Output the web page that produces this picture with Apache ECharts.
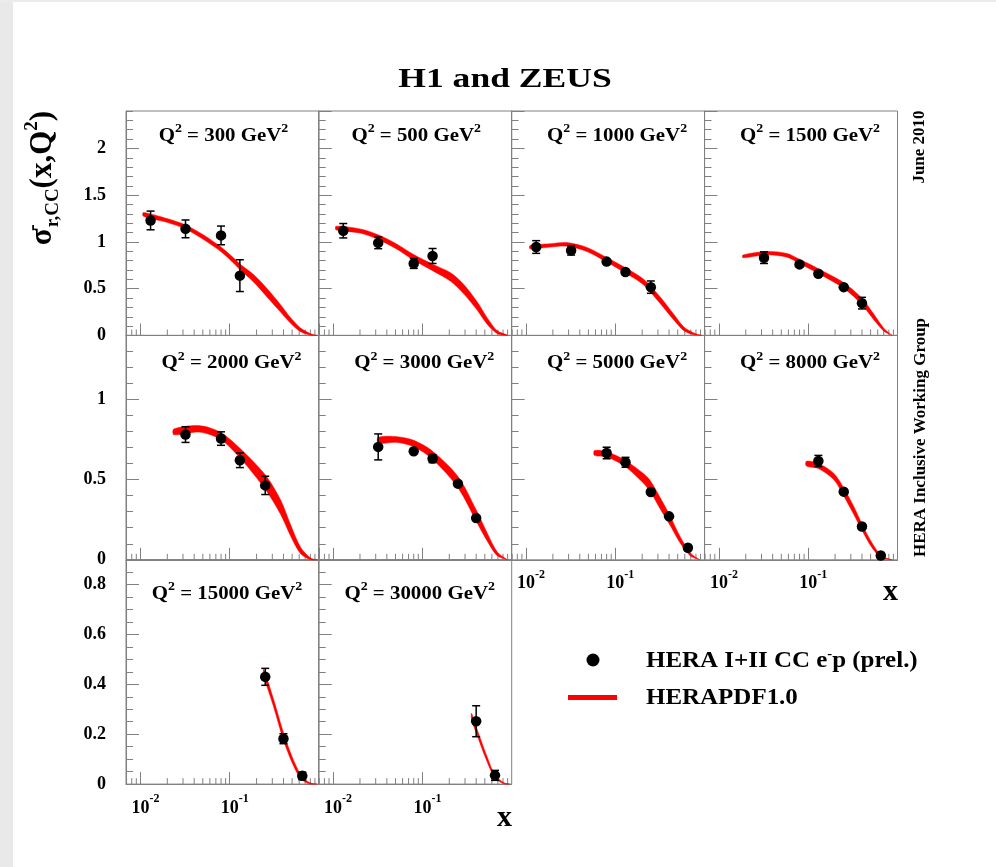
<!DOCTYPE html>
<html><head><meta charset="utf-8">
<script src="https://cdn.jsdelivr.net/npm/echarts@6/dist/echarts.min.js"></script>
<style>html,body{margin:0;padding:0;background:#fff}#c{width:996px;height:867px}</style>
</head><body><div id="c"></div>
<script>
// ---------- data ----------
const q2Labels = ['300','500','1000','1500','2000','3000','5000','8000','15000','30000'];
const panelRow = [0,0,0,0,1,1,1,1,2,2];
const panelCol = [0,1,2,3,0,1,2,3,0,1];

// measured points: x, sigma, error
const ptX = [
  [0.013,0.032,0.08,0.13],
  [0.013,0.032,0.08,0.13],
  [0.013,0.032,0.08,0.13,0.25],
  [0.032,0.08,0.13,0.25,0.40],
  [0.032,0.08,0.13,0.25],
  [0.032,0.08,0.13,0.25,0.40],
  [0.08,0.13,0.25,0.40,0.65],
  [0.13,0.25,0.40,0.65],
  [0.25,0.40,0.65],
  [0.40,0.65]
];
const ptY = [
  [1.23,1.14,1.07,0.64],
  [1.12,0.99,0.77,0.85],
  [0.946,0.91,0.79,0.678,0.517],
  [0.832,0.76,0.66,0.517,0.346],
  [0.781,0.756,0.621,0.464],
  [0.704,0.677,0.631,0.475,0.26],
  [0.666,0.608,0.423,0.271,0.075],
  [0.616,0.425,0.208,0.027],
  [0.43,0.182,0.033],
  [0.252,0.035]
];
const ptErr = [
  [0.10,0.095,0.10,0.17],
  [0.077,0.062,0.053,0.08],
  [0.068,0.05,0.015,0.015,0.066],
  [0.062,0.015,0.015,0.015,0.062],
  [0.049,0.042,0.046,0.057],
  [0.081,0.012,0.025,0.012,0.012],
  [0.036,0.031,0.012,0.012,0.01],
  [0.035,0.012,0.012,0.008],
  [0.034,0.02,0.015],
  [0.062,0.02]
];

// HERAPDF1.0 band: x, lower edge, upper edge
const curveX = [
  [0.0108,0.0198,0.032,0.051,0.08,0.111,0.13,0.186,0.263,0.371,0.481,0.622,0.806,0.96],
  [0.0108,0.0201,0.032,0.052,0.08,0.13,0.207,0.292,0.412,0.533,0.69,0.893],
  [0.0111,0.0186,0.0286,0.048,0.08,0.13,0.208,0.32,0.452,0.585,0.758,0.93],
  [0.0186,0.0345,0.058,0.08,0.13,0.25,0.40,0.545,0.705,0.875],
  [0.0237,0.0469,0.08,0.13,0.25,0.371,0.481,0.622,0.806,0.96],
  [0.032,0.052,0.08,0.13,0.25,0.40,0.533,0.69,0.893],
  [0.0585,0.08,0.13,0.208,0.25,0.32,0.40,0.537,0.695,0.88],
  [0.0955,0.13,0.193,0.25,0.324,0.40,0.52,0.67,0.875],
  [0.24,0.31,0.40,0.50,0.622,0.77,0.95],
  [0.355,0.40,0.533,0.65,0.82,0.95]
];
const curveLo = [
  [1.275,1.21,1.138,1.025,0.895,0.772,0.705,0.57,0.41,0.25,0.13,0.04,0.004,0],
  [1.129,1.095,1.027,0.922,0.805,0.693,0.58,0.443,0.269,0.118,0.02,0],
  [0.927,0.945,0.954,0.898,0.785,0.668,0.541,0.34,0.166,0.052,0.008,0],
  [0.831,0.863,0.837,0.77,0.664,0.505,0.329,0.166,0.046,0],
  [0.78,0.796,0.749,0.636,0.44,0.284,0.148,0.038,0.001,0],
  [0.728,0.732,0.705,0.627,0.45,0.242,0.116,0.025,0],
  [0.651,0.642,0.58,0.476,0.419,0.315,0.226,0.101,0.023,0],
  [0.585,0.569,0.5,0.398,0.283,0.184,0.074,0.01,0],
  [0.436,0.31,0.176,0.086,0.023,0.001,0],
  [0.26,0.206,0.088,0.024,0.001,0]
];
const curveHi = [
  [1.315,1.25,1.182,1.075,0.945,0.828,0.765,0.65,0.50,0.33,0.19,0.08,0.02,0],
  [1.169,1.139,1.077,0.976,0.865,0.763,0.67,0.543,0.359,0.188,0.05,0.006],
  [0.963,0.981,0.994,0.942,0.835,0.724,0.601,0.41,0.226,0.092,0.028,0],
  [0.861,0.899,0.877,0.814,0.714,0.565,0.399,0.226,0.076,0],
  [0.816,0.836,0.793,0.696,0.53,0.374,0.218,0.078,0.011,0],
  [0.764,0.768,0.745,0.677,0.52,0.312,0.166,0.049,0],
  [0.681,0.674,0.62,0.536,0.489,0.385,0.286,0.141,0.043,0],
  [0.615,0.601,0.54,0.448,0.333,0.224,0.104,0.022,0],
  [0.46,0.34,0.206,0.11,0.039,0.007,0],
  [0.284,0.23,0.108,0.036,0.005,0]
];

// axes / ticks
const rowYMax = [2.4, 1.4, 0.9];
const rowYMajor = [0.5, 0.5, 0.2];
const rowYMinor = [0.1, 0.1, 0.05];
const xMin = 0.0069, xMax = 1;
const xMajorTicks = [0.01, 0.1];
const xMajorLabels = ['{b|10}{s|-2}', '{b|10}{s|-1}'];
const xMinorTicks = [0.007,0.008,0.009,0.02,0.03,0.04,0.05,0.06,0.07,0.08,0.09,0.2,0.3,0.4,0.5,0.6,0.7,0.8,0.9];
const nameData = 'HERA I+II CC e-p (prel.)';
const nameFit = 'HERAPDF1.0';

// ---------- layout ----------
const colLeft = [126, 318.7, 511.6, 704.5];
const rowTop = [111, 335.3, 559.6];
const panelW = 193, panelH = 224.5;
const labelCenterByDigits = {3: 97.5, 4: 105.5, 5: 101};
const labelRowOffset = [23, 26.5, 32.5];
const FONT = "'Liberation Serif','Times New Roman',serif";
const FRAME = '#808080';

const grids = [], xAxes = [], yAxes = [], series = [], graphics = [];

graphics.push({type:'rect', silent:true, shape:{x:0,y:0,width:13,height:867}, style:{fill:'#e9e9e9'}});
graphics.push({type:'rect', silent:true, shape:{x:0,y:0,width:996,height:2}, style:{fill:'#ececec'}});

const xRich = {
  b:{fontFamily:FONT, fontWeight:'bold', fontSize:18, color:'#000', verticalAlign:'bottom', lineHeight:24, padding:[0,0,0,10]},
  s:{fontFamily:FONT, fontWeight:'bold', fontSize:12, color:'#000', verticalAlign:'top'}
};

function makeBand(idx) {
  return function(params, api){
    const pts = [];
    const cx = curveX[idx], lo = curveLo[idx], hi = curveHi[idx];
    for (let k=0;k<cx.length;k++) pts.push(api.coord([cx[k], hi[k]]));
    for (let k=cx.length-1;k>=0;k--) pts.push(api.coord([cx[k], lo[k]]));
    return {type:'polygon', shape:{points:pts, smooth:0.3}, style:{fill:'#ff0000', stroke:'#ff0000', lineWidth:0.5}};
  };
}
function renderMinorTick(params, api){
  const p = api.coord([api.value(0), 0]);
  return {type:'line', shape:{x1:p[0], y1:p[1], x2:p[0], y2:p[1]-6}, style:{stroke:FRAME, lineWidth:1}};
}
function renderErr(params, api){
  const a = api.coord([api.value(0), api.value(1)]);
  const b = api.coord([api.value(0), api.value(2)]);
  return {type:'group', children:[
    {type:'line', shape:{x1:a[0], y1:a[1], x2:b[0], y2:b[1]}, style:{stroke:'#000', lineWidth:1.5}},
    {type:'line', shape:{x1:a[0]-4, y1:a[1], x2:a[0]+4, y2:a[1]}, style:{stroke:'#000', lineWidth:1.5}},
    {type:'line', shape:{x1:b[0]-4, y1:b[1], x2:b[0]+4, y2:b[1]}, style:{stroke:'#000', lineWidth:1.5}}
  ]};
}

for (let i = 0; i < q2Labels.length; i++) {
  const r = panelRow[i], c = panelCol[i];
  grids.push({left:colLeft[c], top:rowTop[r], width:panelW, height:panelH, show:true,
    borderColor:FRAME, borderWidth:1, backgroundColor:'transparent', containLabel:false});
  const showX = (r === 2) || (r === 1 && c >= 2);
  xAxes.push({type:'log', gridIndex:i, min:xMin, max:xMax, logBase:10,
    axisLine:{show:true, lineStyle:{color:FRAME, width:1}},
    axisTick:{show:true, inside:true, length:12, lineStyle:{color:FRAME, width:1}},
    splitLine:{show:false},
    axisLabel:{show:showX, margin:9, showMinLabel:false, showMaxLabel:false,
      formatter:function(v){ for (let k=0;k<xMajorTicks.length;k++){ if (Math.abs(v/xMajorTicks[k]-1)<1e-6) return xMajorLabels[k]; } return ''; },
      rich:xRich}
  });
  yAxes.push({type:'value', gridIndex:i, position:'left', min:0, max:rowYMax[r], interval:rowYMajor[r],
    axisLine:{show:true, lineStyle:{color:FRAME, width:1}},
    axisTick:{show:true, inside:true, length:13, lineStyle:{color:FRAME, width:1}},
    splitLine:{show:false},
    axisLabel:{show:c===0, showMaxLabel:false, margin:20,
      fontFamily:FONT, fontWeight:'bold', fontSize:18, color:'#000'}
  });
  yAxes.push({type:'value', gridIndex:i, position:'left', min:0, max:rowYMax[r], interval:rowYMinor[r],
    axisLine:{show:false}, splitLine:{show:false}, axisLabel:{show:false},
    axisTick:{show:true, inside:true, length:7, lineStyle:{color:FRAME, width:1}}
  });

  series.push({type:'custom', xAxisIndex:i, yAxisIndex:2*i, silent:true, z:1,
    data:xMinorTicks.map(v=>[v,0]), renderItem:renderMinorTick});

  series.push({type:'custom', name:nameFit, xAxisIndex:i, yAxisIndex:2*i, silent:true, z:2,
    itemStyle:{color:'#ff0000'},
    data:[[curveX[i][0], curveHi[i][0]]], renderItem:makeBand(i)});

  series.push({type:'custom', xAxisIndex:i, yAxisIndex:2*i, silent:true, z:3,
    data:ptX[i].map((x,k)=>[x, ptY[i][k]-ptErr[i][k], ptY[i][k]+ptErr[i][k]]),
    renderItem:renderErr});

  series.push({type:'scatter', name:nameData, xAxisIndex:i, yAxisIndex:2*i, z:4, silent:true,
    symbol:'circle', symbolSize:10.5, itemStyle:{color:'#000', opacity:1},
    data:ptX[i].map((x,k)=>[x, ptY[i][k]])});

  graphics.push({type:'text', silent:true,
    x: colLeft[c] + labelCenterByDigits[q2Labels[i].length],
    y: rowTop[r] + labelRowOffset[r],
    scaleX:1.16,
    style:{text:'{q|Q}{s|2}{q| = ' + q2Labels[i] + ' GeV}{s|2}', align:'center', verticalAlign:'middle',
      rich:{
        q:{fontFamily:FONT, fontWeight:'bold', fontSize:18, fill:'#000', verticalAlign:'bottom', lineHeight:22},
        s:{fontFamily:FONT, fontWeight:'bold', fontSize:12, fill:'#000', verticalAlign:'top'}
      }}});
}

// titles, side texts, legend
graphics.push({type:'text', silent:true, x:505, y:80, scaleX:1.27,
  style:{text:'H1 and ZEUS', align:'center', verticalAlign:'middle', font:"bold 28px " + FONT, fill:'#000'}});
graphics.push({type:'text', silent:true, x:43, y:178, rotation:Math.PI/2,
  style:{text:'{a|σ}{m|-}{b|r,CC}{a|(x,Q}{c|2}{a|)}', align:'center', verticalAlign:'middle',
    rich:{
      a:{fontFamily:FONT, fontWeight:'bold', fontSize:31, fill:'#000', verticalAlign:'middle', lineHeight:40},
      m:{fontFamily:FONT, fontWeight:'bold', fontSize:20, fill:'#000', verticalAlign:'top', width:1, align:'left'},
      b:{fontFamily:FONT, fontWeight:'bold', fontSize:19, fill:'#000', verticalAlign:'bottom'},
      c:{fontFamily:FONT, fontWeight:'bold', fontSize:19, fill:'#000', verticalAlign:'top'}
    }}});
graphics.push({type:'text', silent:true, x:920, y:147, rotation:Math.PI/2,
  style:{text:'June 2010', align:'center', verticalAlign:'middle', font:"bold 17px " + FONT, fill:'#000'}});
graphics.push({type:'text', silent:true, x:920.5, y:437.5, rotation:Math.PI/2,
  style:{text:'HERA Inclusive Working Group', align:'center', verticalAlign:'middle', font:"bold 17px " + FONT, fill:'#000'}});
graphics.push({type:'text', silent:true, x:512, y:818,
  style:{text:'x', align:'right', verticalAlign:'middle', font:"bold 30px " + FONT, fill:'#000'}});
graphics.push({type:'text', silent:true, x:898, y:592,
  style:{text:'x', align:'right', verticalAlign:'middle', font:"bold 30px " + FONT, fill:'#000'}});
// legend
graphics.push({type:'circle', silent:true, shape:{cx:593, cy:660, r:6.5}, style:{fill:'#000'}});
graphics.push({type:'rect', silent:true, shape:{x:568, y:695, width:49, height:5}, style:{fill:'#ff0000'}});
graphics.push({type:'text', silent:true, x:646, y:660, scaleX:1.04,
  style:{text:'{t|HERA I+II CC e}{s|-}{t|p (prel.)}', align:'left', verticalAlign:'middle',
    rich:{
      t:{fontFamily:FONT, fontWeight:'bold', fontSize:24, fill:'#000', lineHeight:26, verticalAlign:'bottom'},
      s:{fontFamily:FONT, fontWeight:'bold', fontSize:14, fill:'#000', verticalAlign:'top'}
    }}});
graphics.push({type:'text', silent:true, x:646, y:698, scaleX:1.04,
  style:{text:nameFit, align:'left', verticalAlign:'middle', font:"bold 24px " + FONT, fill:'#000'}});

const chart = echarts.init(document.getElementById('c'), null, {renderer:'canvas'});
chart.setOption({
  backgroundColor:'#ffffff',
  animation:false,
  grid:grids, xAxis:xAxes, yAxis:yAxes, series:series,
  graphic:graphics
});
</script></body></html>
